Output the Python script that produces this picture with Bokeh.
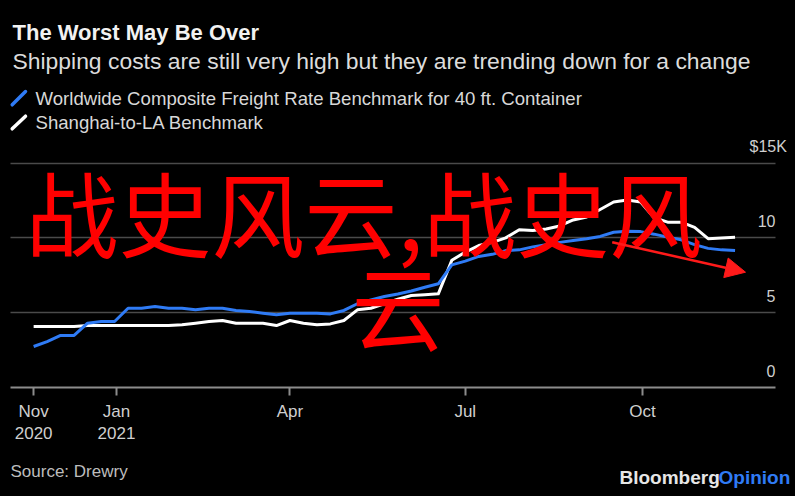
import pandas as pd
from bokeh.plotting import figure
from bokeh.layouts import column
from bokeh.models import Range1d, FixedTicker, Grid, Label, Arrow, NormalHead
from bokeh.core.properties import value
from bokeh.embed import file_html
from bokeh.resources import INLINE

# ---- data (weekly, $ thousands per 40ft container) ----
week_start = "2020-11-19"
n_weeks = 53
worldwide = [2.74, 3.07, 3.48, 3.48, 4.30, 4.41, 4.41, 5.30, 5.30, 5.41,
             5.30, 5.30, 5.19, 5.30, 5.30, 5.15, 5.08, 4.97, 4.86, 4.97,
             4.97, 4.97, 4.92, 5.15, 5.60, 5.85, 6.08, 6.25, 6.45, 6.70,
             6.93, 8.20, 8.45, 8.76, 8.90, 9.15, 9.20, 9.40, 9.55, 9.70,
             9.83, 9.95, 10.10, 10.38, 10.45, 10.42, 10.25, 10.05, 9.87, 9.55,
             9.30, 9.20, 9.16]
shanghai_la = [4.08, 4.08, 4.08, 4.08, 4.14, 4.14, 4.14, 4.14, 4.14, 4.14,
               4.14, 4.19, 4.30, 4.41, 4.48, 4.30, 4.30, 4.30, 4.14, 4.48,
               4.30, 4.20, 4.25, 4.48, 5.19, 5.30, 5.60, 5.90, 6.15, 6.20,
               6.26, 8.50, 9.05, 9.49, 9.70, 10.00, 10.55, 10.50, 10.60, 10.80,
               11.20, 11.40, 11.90, 12.40, 12.54, 12.40, 11.35, 11.05, 11.05, 10.70,
               9.95, 10.00, 10.05]
tick_dates = ["2020-11-19", "2021-01-01", "2021-04-01", "2021-07-01", "2021-10-01"]
tick_labels = ["Nov\n2020", "Jan\n2021", "Apr", "Jul", "Oct"]
y_ticks = [0, 5, 10, 15]
y_tick_labels = ["0", "5", "10", "$15K"]
grid_span = ["2020-11-07", "2021-12-09"]   # horizontal extent of grid / axis line

title = "The Worst May Be Over"
subtitle = "Shipping costs are still very high but they are trending down for a change"
series_names = ["Worldwide Composite Freight Rate Benchmark for 40 ft. Container",
                "Shanghai-to-LA Benchmark"]
source = "Source: Drewry"


def ms(d):
    return pd.Timestamp(d).value / 1e6


dates = pd.date_range(week_start, periods=n_weeks, freq="7D")
x = [ms(d) for d in dates]

BLUE = "#2f7bf5"
FONT = "Liberation Sans"
BG = "black"
DAY = 86400000.0
PX_PER_DAY = 1.927
jan1 = ms("2021-01-01")


def kill_outline(f):
    for name in f.properties():
        if name.endswith("line_color"):
            try:
                setattr(f, name, None)
            except Exception:
                pass


def blank(h):
    f = figure(width=795, height=h, output_backend="svg", toolbar_location=None,
               x_range=Range1d(0, 795), y_range=Range1d(h, 0),
               x_axis_location=None, y_axis_location=None, title=None,
               background_fill_color=BG, border_fill_color=BG, outline_line_color=None,
               min_border=0)
    f.grid.visible = False
    kill_outline(f)
    return f


def txt(f, xx, yy, t, size, color, bold=False, align="left"):
    f.text(x=[xx], y=[yy], text=[t], text_align=align, text_baseline="middle",
           text_font=value(FONT), text_font_size=size, text_color=color,
           text_font_style="bold" if bold else "normal")


# ---- header ----
head = blank(135)
txt(head, 12, 32, title, "22px", "#f2f2f2", bold=True)
txt(head, 12, 60, subtitle, "22.9px", "#dcdcdc")
txt(head, 35, 98, series_names[0], "18.6px", "#d8d8d8")
txt(head, 35, 122, series_names[1], "18.6px", "#d8d8d8")
head.segment(x0=[11.7], y0=[104.3], x1=[25], y1=[91], line_color=BLUE, line_width=3.5, line_cap="round")
head.segment(x0=[11.7], y0=[128.3], x1=[25], y1=[115.7], line_color="white", line_width=3.5, line_cap="round")

# ---- main chart ----
FRAME_H = 252
p = figure(width=795, height=FRAME_H + 64, output_backend="svg", toolbar_location=None,
           x_range=Range1d(jan1 - 116 / PX_PER_DAY * DAY, jan1 + (795 - 116) / PX_PER_DAY * DAY),
           y_range=Range1d(0, FRAME_H / 14.96),
           y_axis_location=None, title=None,
           background_fill_color=BG, border_fill_color=BG, outline_line_color=None,
           min_border_left=0, min_border_right=0, min_border_top=0, min_border_bottom=64)
p.grid.visible = False
kill_outline(p)
g0, g1 = ms(grid_span[0]), ms(grid_span[1])
if "cross_bounds" in Grid.properties():
    p.add_layout(Grid(dimension=1, ticker=FixedTicker(ticks=[5, 10, 15]),
                      cross_bounds=(g0, g1),
                      grid_line_color="#4a4a4a", grid_line_width=1.5))
else:
    p.segment(x0=[g0] * 3, y0=[5, 10, 15], x1=[g1] * 3, y1=[5, 10, 15],
              line_color="#4a4a4a", line_width=1.5)

ax = p.xaxis[0]
tick_ms = [ms(d) for d in tick_dates]
ax.ticker = FixedTicker(ticks=tick_ms)
ax.bounds = (g0, g1)
ax.major_label_overrides = {t: l for t, l in zip(tick_ms, tick_labels)}
ax.axis_line_color = "#8c8c8c"
ax.axis_line_width = 2
ax.major_tick_line_color = "#8c8c8c"
ax.major_tick_line_width = 2
ax.major_tick_out = 8
ax.major_tick_in = 0
ax.minor_tick_line_color = None
ax.major_label_text_color = "#cfcfcf"
ax.major_label_text_font = FONT
ax.major_label_text_font_size = "17px"
ax.major_label_standoff = 6

p.line(x, shanghai_la, line_color="white", line_width=3, line_join="round")
p.line(x, worldwide, line_color=BLUE, line_width=3, line_join="round")

for v, lab in zip(y_ticks, y_tick_labels):
    if lab.startswith("$"):
        p.add_layout(Label(x=749, y=v, x_units="screen", y_units="data", y_offset=17,
                           text=lab, text_align="left", text_baseline="middle",
                           text_font=FONT, text_font_size="16px", text_color="#cfcfcf"))
    else:
        p.add_layout(Label(x=775, y=v, x_units="screen", y_units="data", y_offset=17,
                           text=lab, text_align="right", text_baseline="middle",
                           text_font=FONT, text_font_size="16px", text_color="#cfcfcf"))


def red(xc, yc, t):
    p.add_layout(Label(x=xc, y=387 - yc, x_units="screen", y_units="screen",
                       text=t, text_align="left", text_baseline="middle",
                       text_font="Noto Sans CJK SC", text_font_size="93px",
                       text_color="#ff0000"))


red(25, 210, "战史风云,战史风")
red(351, 303, "云")
p.add_layout(Arrow(end=NormalHead(size=20, fill_color="#ff1a1a", line_color="#ff1a1a"),
                   x_start=611.7, y_start=387 - 241.7, x_end=745, y_end=387 - 271.7,
                   start_units="screen", end_units="screen",
                   line_color="#ff1a1a", line_width=2.5))

# ---- footer ----
foot = blank(45)
txt(foot, 10, 20, source, "17px", "#bdbdbd")
txt(foot, 619, 26, "Bloomberg", "19px", "#e6e6e6", bold=True)
txt(foot, 718, 26, "Opinion", "19px", BLUE, bold=True)

layout = column(head, p, foot, spacing=0)
html = file_html(layout, INLINE)
html = html.replace("<head>", "<head><style>html,body{background:#000;margin:0;padding:0;}</style>", 1)
open("out.html", "w").write(html)
